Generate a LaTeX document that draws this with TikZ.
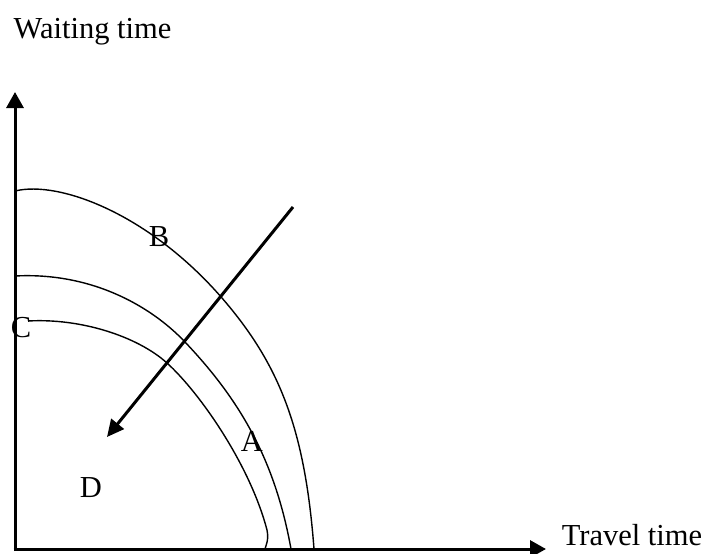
\documentclass[tikz,border=0pt]{standalone}
\usepackage{fontspec}
\setmainfont{Liberation Serif}
\usetikzlibrary{arrows.meta}
\begin{document}
\begin{tikzpicture}[x=1pt,y=-1pt,
  axis/.style={line width=3pt,-{Triangle[length=16pt,width=17pt]}},
  shiftarrow/.style={line width=3pt,-{Triangle[length=17pt,width=16pt]}},
  curve/.style={line width=1.4pt},
  lbl/.style={font=\fontsize{30.5}{36}\selectfont, inner sep=0pt, anchor=base}]
\useasboundingbox (0,0) rectangle (707,554);
% axes
\coordinate (ybot) at (15,551);
\coordinate (ytop) at (15,92);
\coordinate (xleft) at (13.5,549);
\coordinate (xright) at (546,549);
\draw[axis] (ybot) -- (ytop);
\draw[axis] (xleft) -- (xright);
% curves
\draw[curve] (15,191) .. controls (60,180) and (150,215) .. (222,298)
  .. controls (280,365) and (305,430) .. (314,549);
\draw[curve] (15,276) .. controls (90,272) and (150,305) .. (185,342)
  .. controls (240,400) and (275,460) .. (291,549);
\draw[curve] (28,321) .. controls (80,318) and (137,336) .. (167,363)
  .. controls (200,393) and (250,465) .. (267,530)
  .. controls (269,540) and (266,545) .. (265,549);
% shift arrow
\coordinate (sstart) at (293,207);
\coordinate (send) at (107,437);
\draw[shiftarrow] (sstart) -- (send);
% labels
\node[lbl] (wt) at (92.5,38) {Waiting time};
\node[lbl] (tt) at (632,545) {Travel time};
\node[lbl] (B) at (159,246) {B};
\node[lbl] (A) at (252,451) {A};
\node[lbl] (C) at (21,337) {C};
\node[lbl] (D) at (91,497) {D};
\end{tikzpicture}
\end{document}
